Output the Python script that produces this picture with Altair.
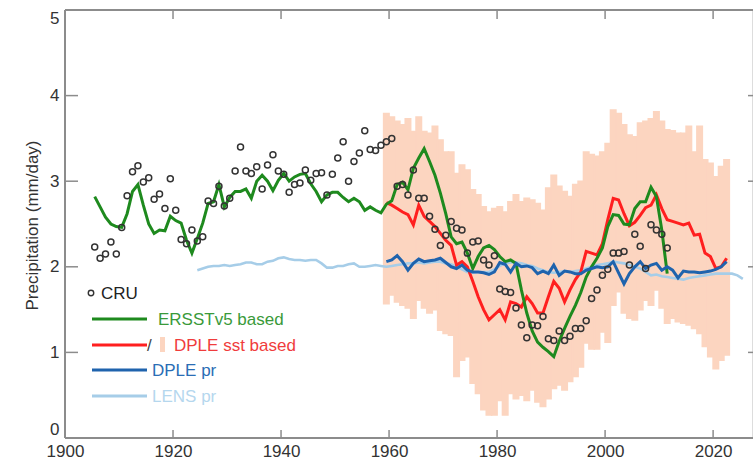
import altair as alt
import pandas as pd

# ---------------- data ----------------
years_cru = list(range(1905, 2012))
cru = [2.23,2.10,2.15,2.29,2.15,2.46,2.83,3.11,3.18,2.99,3.04,2.79,2.85,2.68,3.03,2.66,2.32,2.27,2.43,2.30,
       2.35,2.77,2.74,2.94,2.71,2.80,3.12,3.40,3.12,3.09,3.17,2.91,3.19,3.31,3.12,3.08,2.87,2.96,2.98,3.13,
       3.01,3.09,3.10,2.84,3.08,3.27,3.46,3.00,3.23,3.33,3.59,3.37,3.36,3.42,3.46,3.50,2.94,2.96,2.84,3.13,
       2.80,2.80,2.59,2.44,2.25,2.37,2.53,2.45,2.43,2.16,2.29,2.30,2.08,2.02,2.13,1.74,1.71,1.70,1.52,1.32,
       1.17,1.32,1.31,1.42,1.16,1.14,1.25,1.14,1.19,1.28,1.28,1.37,1.63,1.73,1.90,1.97,2.16,2.16,2.18,2.02,
       2.38,2.24,1.98,2.49,2.43,2.38,2.22]

years_ersst = list(range(1905, 2012))
ersst = [2.82,2.70,2.58,2.50,2.47,2.46,2.62,2.88,2.96,2.72,2.50,2.39,2.43,2.42,2.59,2.54,2.51,2.31,2.16,2.33,
         2.51,2.74,2.76,2.96,2.70,2.81,2.88,2.88,2.91,2.80,3.00,3.07,3.00,2.89,3.01,3.09,3.00,3.05,3.08,3.09,
         2.97,2.88,2.76,2.84,2.87,2.87,2.81,2.76,2.80,2.76,2.66,2.70,2.66,2.63,2.73,2.77,2.96,2.99,2.90,3.15,
         3.27,3.38,3.23,3.07,2.86,2.62,2.35,2.27,2.29,2.16,1.98,2.12,2.22,2.25,2.20,2.12,2.06,2.08,2.04,1.73,
         1.46,1.25,1.12,1.06,1.01,0.95,1.13,1.28,1.42,1.55,1.70,1.88,2.00,2.10,2.22,2.47,2.61,2.60,2.50,2.49,
         2.68,2.76,2.76,2.93,2.82,2.43,1.92]

years_dple = list(range(1959, 2023))
dple_sst = [2.75,2.72,2.68,2.64,2.61,2.49,2.72,2.59,2.53,2.47,2.39,2.31,2.25,2.02,2.06,2.00,1.83,1.65,1.50,1.38,
            1.44,1.50,1.38,1.59,1.57,1.53,1.65,1.57,1.46,1.46,1.65,1.83,1.75,1.59,1.73,1.85,1.94,2.18,2.16,2.14,
            2.27,2.55,2.80,2.78,2.62,2.48,2.52,2.60,2.69,2.72,2.84,2.68,2.55,2.53,2.51,2.49,2.51,2.37,2.38,2.16,
            2.12,1.98,2.00,2.10]
dple_pr = [2.06,2.08,2.13,2.06,1.96,2.04,2.09,2.06,2.07,2.08,2.10,2.05,2.00,1.98,2.02,1.96,1.94,1.94,1.93,1.91,
           1.94,2.05,2.03,1.94,2.04,2.00,2.01,1.99,1.92,1.95,1.92,2.02,1.90,1.95,1.94,1.92,1.92,1.96,1.98,2.00,
           1.99,2.00,2.06,1.93,1.80,1.92,2.00,2.06,1.98,2.02,2.04,1.96,2.00,1.96,1.87,1.95,1.94,1.94,1.93,1.94,
           1.95,1.97,2.00,2.06]
dple_hi = [3.79,3.75,3.70,3.66,3.73,3.58,3.75,3.58,3.56,3.64,3.48,3.34,3.34,3.09,3.19,3.13,2.90,2.84,2.70,2.64,
           2.68,2.70,2.64,2.76,2.84,2.76,2.80,2.78,2.74,2.66,2.92,3.07,2.94,2.88,2.82,2.96,3.00,3.34,3.31,3.29,
           3.34,3.44,3.83,3.79,3.66,3.54,3.52,3.68,3.70,3.73,3.81,3.70,3.60,3.59,3.56,3.56,3.64,3.34,3.64,3.25,
           3.21,3.05,3.17,3.25]
dple_lo = [1.57,1.67,1.59,1.55,1.52,1.40,1.61,1.52,1.46,1.50,1.26,1.22,1.20,0.72,0.91,0.95,0.64,0.52,0.33,0.27,
           0.27,0.44,0.27,0.52,0.46,0.50,0.44,0.56,0.42,0.37,0.46,0.58,0.62,0.56,0.66,0.72,0.83,1.11,1.04,1.04,
           1.24,1.12,1.55,1.71,1.46,1.40,1.38,1.50,1.61,1.55,1.73,1.52,1.34,1.40,1.36,1.34,1.32,1.28,1.22,1.07,
           0.95,0.81,0.91,0.97]

years_lens = list(range(1924, 2026))
lens_pr = [1.96,1.98,2.00,2.01,2.01,2.02,2.01,2.02,2.03,2.05,2.05,2.03,2.03,2.06,2.07,2.10,2.11,2.09,2.08,2.08,
           2.07,2.08,2.08,2.04,1.99,1.99,2.01,2.01,2.03,2.04,2.00,2.00,2.01,2.02,2.01,2.00,2.01,2.02,2.03,2.04,
           2.04,2.05,2.04,2.05,2.06,2.06,2.04,2.03,2.00,1.97,1.94,1.93,1.94,1.94,1.94,1.97,2.01,2.04,2.05,2.05,
           2.04,2.02,2.01,1.98,1.96,1.94,1.93,1.94,1.95,1.94,1.95,1.96,1.98,2.00,2.02,2.03,2.04,2.06,2.05,2.04,
           2.02,2.00,1.98,1.94,1.90,1.91,1.89,1.88,1.87,1.86,1.85,1.87,1.88,1.89,1.90,1.91,1.92,1.92,1.92,1.92,
           1.90,1.86]

x_ticks = [1900, 1920, 1940, 1960, 1980, 2000, 2020]
x_inner_ticks = [1920, 1940, 1960, 1980, 2000, 2020]
y_ticks = [0, 1, 2, 3, 4, 5]
y_inner_ticks = [1, 2, 3, 4]

legend_labels = ["CRU", "ERSSTv5 based", "/", "DPLE sst based", "DPLE pr", "LENS pr"]

# ---------------- styling ----------------
W, H = 687, 428
FONT = "Liberation Sans"
GREEN, RED, BLUE, LBLUE, PEACH = "#1e8a1e", "#ff1f1f", "#1f63ad", "#a6cde8", "#fcd5c0"
FRAME = "#8c8c8c"

xs = alt.Scale(domain=[1900, 2027.2], nice=False, zero=False)
ys = alt.Scale(domain=[0, 5], nice=False, zero=False)

X_AX = alt.Axis(values=x_ticks, format="d", labelFontSize=17, labelColor="#333333",
                labelFont=FONT, ticks=False, domain=False, grid=False,
                labelPadding=5, labelFlush=False, title=None)
Y_AX = alt.Axis(values=y_ticks, labelFontSize=17, labelColor="#333333", labelFont=FONT,
                labelFlush=True, ticks=False, domain=False, grid=False, labelPadding=6,
                title="Precipitation (mm/day)",
                titleFont=FONT, titleFontSize=17, titleFontWeight="normal",
                titleColor="#333333", titleAngle=270, titleX=-33, titleY=215,
                titleAlign="center", titleBaseline="middle")


def X(field):
    return alt.X(field, scale=xs, axis=X_AX, title=None)


def Y(field):
    return alt.Y(field, scale=ys, axis=Y_AX, title="Precipitation (mm/day)")


df_cru = pd.DataFrame({"yr": years_cru, "v": cru})
df_er = pd.DataFrame({"yr": years_ersst, "v": ersst})
df_dp = pd.DataFrame({"yr": years_dple, "sst": dple_sst, "pr": dple_pr, "lo": dple_lo, "hi": dple_hi})
df_ln = pd.DataFrame({"yr": years_lens, "v": lens_pr})

shade = alt.Chart(df_dp).transform_calculate(yr1="datum.yr + 1").mark_rect(
    color=PEACH, stroke=PEACH, strokeWidth=1.6
).encode(
    x=X("yr:Q"), x2="yr1:Q",
    y=Y("lo:Q"), y2="hi:Q",
)


def line(df, field, color, sw):
    return alt.Chart(df).transform_calculate(xm="datum.yr + 0.5").mark_line(
        color=color, strokeWidth=sw
    ).encode(x=X("xm:Q"), y=Y(field + ":Q"))


lens_line = line(df_ln, "v", LBLUE, 2.6)
red_line = line(df_dp, "sst", RED, 3)
green_line = line(df_er, "v", GREEN, 3)
blue_line = line(df_dp, "pr", BLUE, 3)

points = alt.Chart(df_cru).transform_calculate(xm="datum.yr + 0.5").mark_point(
    shape="circle", filled=False, size=36, color="#333333", strokeWidth=1.5, opacity=1
).encode(x=X("xm:Q"), y=Y("v:Q"))

one = pd.DataFrame({"k": [0]})

# frame (left, top, bottom) - right side falls outside the picture
frame_left = alt.Chart(one).mark_rule(color=FRAME, strokeWidth=2).encode(
    x=alt.value(0), y=alt.value(0), y2=alt.value(H))
frame_top = alt.Chart(one).mark_rule(color=FRAME, strokeWidth=2).encode(
    x=alt.value(0), x2=alt.value(W + 2), y=alt.value(0))
frame_bot = alt.Chart(one).mark_rule(color=FRAME, strokeWidth=2).encode(
    x=alt.value(0), x2=alt.value(W + 2), y=alt.value(H))

dfxt = pd.DataFrame({"yr": x_inner_ticks})
dfyt = pd.DataFrame({"v": y_inner_ticks})
tick_b = alt.Chart(dfxt).mark_rule(color=FRAME, strokeWidth=1.5).encode(
    x=X("yr:Q"), y=alt.value(H), y2=alt.value(H - 8))
tick_t = alt.Chart(dfxt).mark_rule(color=FRAME, strokeWidth=1.5).encode(
    x=X("yr:Q"), y=alt.value(0), y2=alt.value(9))
tick_l = alt.Chart(dfyt).mark_rule(color=FRAME, strokeWidth=1.5).encode(
    y=Y("v:Q"), x=alt.value(0), x2=alt.value(13))
tick_r = alt.Chart(dfyt).mark_rule(color=FRAME, strokeWidth=1.5).encode(
    y=Y("v:Q"), x=alt.value(W - 4), x2=alt.value(W + 4))

# ---------------- manual legend ----------------
def ltext(label, x, y, color):
    return alt.Chart(pd.DataFrame({"t": [label]})).mark_text(
        align="left", baseline="middle", font=FONT, fontSize=17, color=color
    ).encode(text="t:N", x=alt.value(x), y=alt.value(y))


def lline(y, color, sw=3):
    return alt.Chart(one).mark_rule(color=color, strokeWidth=sw).encode(
        x=alt.value(27), x2=alt.value(82), y=alt.value(y))


leg = [
    alt.Chart(one).mark_point(shape="circle", filled=False, size=30, color="#333333",
                              strokeWidth=1.4, opacity=1).encode(x=alt.value(26), y=alt.value(283)),
    ltext(legend_labels[0], 36, 284, "#222222"),
    lline(309, GREEN), ltext(legend_labels[1], 93, 310, "#3a9a3a"),
    lline(335, RED), ltext(legend_labels[2], 82, 336, "#444444"),
    alt.Chart(one).mark_rect(color=PEACH).encode(
        x=alt.value(95), x2=alt.value(100), y=alt.value(327), y2=alt.value(342)),
    ltext(legend_labels[3], 109, 336, "#f03c3c"),
    lline(360, BLUE), ltext(legend_labels[4], 87, 361, "#2a6db5"),
    lline(386, LBLUE), ltext(legend_labels[5], 87, 387, "#b5d7ee"),
]

chart = alt.layer(
    shade, lens_line, red_line, green_line, blue_line, points,
    frame_left, frame_top, frame_bot, tick_b, tick_t, tick_l, tick_r, *leg
).properties(
    width=W, height=H,
    autosize=alt.AutoSizeParams(type="none"),
    padding={"left": 65, "top": 10, "right": 1, "bottom": 27},
).configure_view(stroke=None).configure(background="white")

chart.save("out.html", embed_options={"renderer": "svg", "actions": False})
